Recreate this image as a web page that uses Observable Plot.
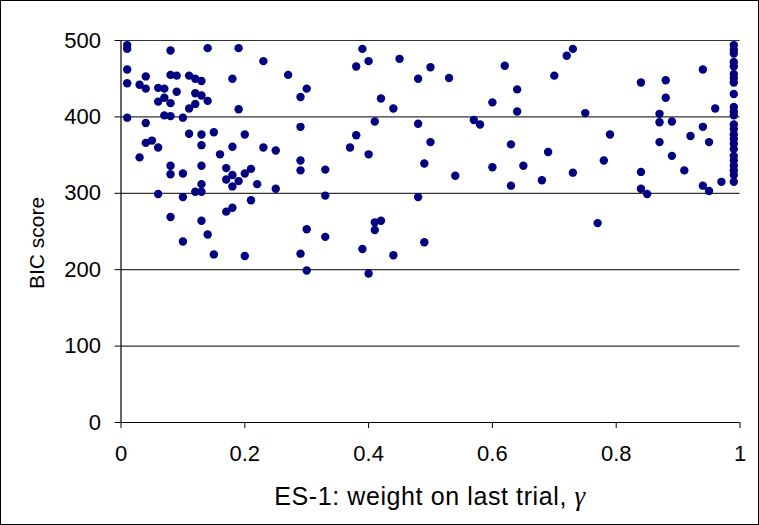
<!DOCTYPE html>
<html>
<head>
<meta charset="utf-8">
<script src="https://cdn.jsdelivr.net/npm/d3@7"></script>
<script src="https://cdn.jsdelivr.net/npm/@observablehq/plot@0.6"></script>
<style>
  html, body { margin: 0; padding: 0; background: #fff; }
  #chart svg { display: block; }
</style>
</head>
<body>
<div id="chart"></div>
<script>
// ES-1 weight on last trial (gamma) for each subject
const gamma = [
  0.01,0.01,0.08,0.14,0.01,0.04,0.08,0.09,0.11,0.12,0.13,0.01,0.03,0.04,0.06,0.07,0.09,0.12,0.13,0.06,
  0.07,0.08,0.14,0.12,0.11,0.01,0.07,0.08,0.10,0.04,0.11,0.13,0.15,0.04,0.05,0.06,0.13,0.16,0.03,0.08,
  0.13,0.08,0.10,0.13,0.12,0.13,0.06,0.10,0.08,0.13,0.14,0.10,0.15,0.19,0.23,0.18,0.27,0.30,0.29,0.19,
  0.29,0.20,0.18,0.23,0.25,0.29,0.17,0.21,0.18,0.20,0.29,0.33,0.17,0.19,0.18,0.22,0.25,0.33,0.21,0.18,
  0.17,0.30,0.33,0.20,0.29,0.30,0.39,0.40,0.38,0.45,0.50,0.48,0.42,0.44,0.41,0.48,0.38,0.37,0.40,0.50,
  0.49,0.48,0.42,0.41,0.41,0.49,0.39,0.44,0.40,0.53,0.62,0.64,0.60,0.64,0.57,0.58,0.63,0.54,0.60,0.65,
  0.63,0.73,0.72,0.70,0.84,0.75,0.79,0.69,0.78,0.73,0.68,0.84,0.84,0.77,0.88,0.94,0.88,0.96,0.87,0.87,
  0.89,0.94,0.92,0.87,0.95,0.89,0.91,0.85,0.94,0.95,0.97,
  0.99,0.99,0.99,0.99,0.99,0.99,0.99,0.99,0.99,0.99,0.99,0.99,0.99,0.99,0.99,0.99,0.99,0.99,0.99,0.99,
  0.99,0.99,0.99,0.99
];
// BIC score for each subject
const bic = [
  494,489,487,490,462,453,455,454,454,450,447,444,442,437,438,437,433,431,428,420,
  425,418,421,417,411,399,402,401,399,392,378,377,380,366,369,360,363,351,347,336,
  336,325,326,312,302,302,299,295,269,264,246,237,220,490,473,450,455,437,426,410,
  387,377,361,360,356,343,333,332,324,326,330,331,318,316,309,312,306,297,291,281,
  276,253,243,218,221,199,489,473,466,476,465,450,424,411,394,391,376,360,351,367,
  339,295,264,262,252,236,227,219,195,451,467,436,419,407,396,390,364,323,334,336,
  310,489,480,454,445,405,377,354,343,327,317,328,306,261,448,462,425,411,404,393,
  394,387,375,367,367,349,330,299,310,303,315,
  494,488,483,472,466,456,451,445,430,413,407,402,390,384,377,371,365,358,349,343,
  336,330,324,315
];
const xTicks = [0, 0.2, 0.4, 0.6, 0.8, 1];
const xTickLabels = ["0", "0.2", "0.4", "0.6", "0.8", "1"];
const yTicks = [0, 100, 200, 300, 400, 500];
const yLabel = "BIC score";
const xLabelMain = "ES-1: weight on last trial, ";
const xLabelSymbol = "γ";

const data = gamma.map((g, i) => ({gamma: g, bic: bic[i]}));

const W = 759, H = 525;
const mL = 120.5, mR = 19.5, mT = 40, mB = 103;
const FONT = "'Liberation Sans', Arial, sans-serif";

const chart = Plot.plot({
  width: W,
  height: H,
  marginLeft: mL,
  marginRight: mR,
  marginTop: mT,
  marginBottom: mB,
  style: {fontFamily: FONT, fontSize: "22px", color: "#000", background: "#fff", overflow: "visible"},
  x: {domain: [0, 1]},
  y: {domain: [0, 500]},
  marks: [
    Plot.gridY(yTicks.filter(d => d > 0), {stroke: "#333", strokeOpacity: 1, strokeWidth: 1.2}),
    Plot.ruleX([0], {stroke: "#000", strokeWidth: 1.2}),
    Plot.ruleY([0], {stroke: "#000", strokeWidth: 1.2}),
    Plot.axisX({ticks: xTicks, tickFormat: d => xTickLabels[xTicks.indexOf(d)], tickSize: 6, tickPadding: 17, label: null, fontSize: 22, stroke: "#000"}),
    Plot.axisY({ticks: yTicks, tickSize: 6, tickPadding: 14, label: null, fontSize: 22, stroke: "#000"}),
    Plot.dot(data, {x: "gamma", y: "bic", r: 4.2, fill: "#000080", stroke: "none"})
  ]
});

const svg = d3.select(chart);
svg.append("rect")
  .attr("x", 0.5).attr("y", 0.5)
  .attr("width", W - 1).attr("height", H - 1)
  .attr("fill", "none").attr("stroke", "#000").attr("stroke-width", 1);

svg.append("text")
  .attr("transform", `translate(38,243) rotate(-90)`)
  .attr("text-anchor", "middle")
  .attr("dominant-baseline", "middle")
  .attr("font-family", FONT)
  .attr("font-size", 21)
  .attr("fill", "#000")
  .text(yLabel);

const xl = svg.append("text")
  .attr("x", 430)
  .attr("y", 505)
  .attr("text-anchor", "middle")
  .attr("font-family", FONT)
  .attr("font-size", 25)
  .attr("letter-spacing", "0.6px")
  .attr("fill", "#000");
xl.append("tspan").text(xLabelMain);
xl.append("tspan")
  .attr("font-family", "'Liberation Serif', 'Times New Roman', serif")
  .attr("font-style", "italic")
  .attr("font-size", 27)
  .text(xLabelSymbol);

document.getElementById("chart").appendChild(chart);
</script>
</body>
</html>
